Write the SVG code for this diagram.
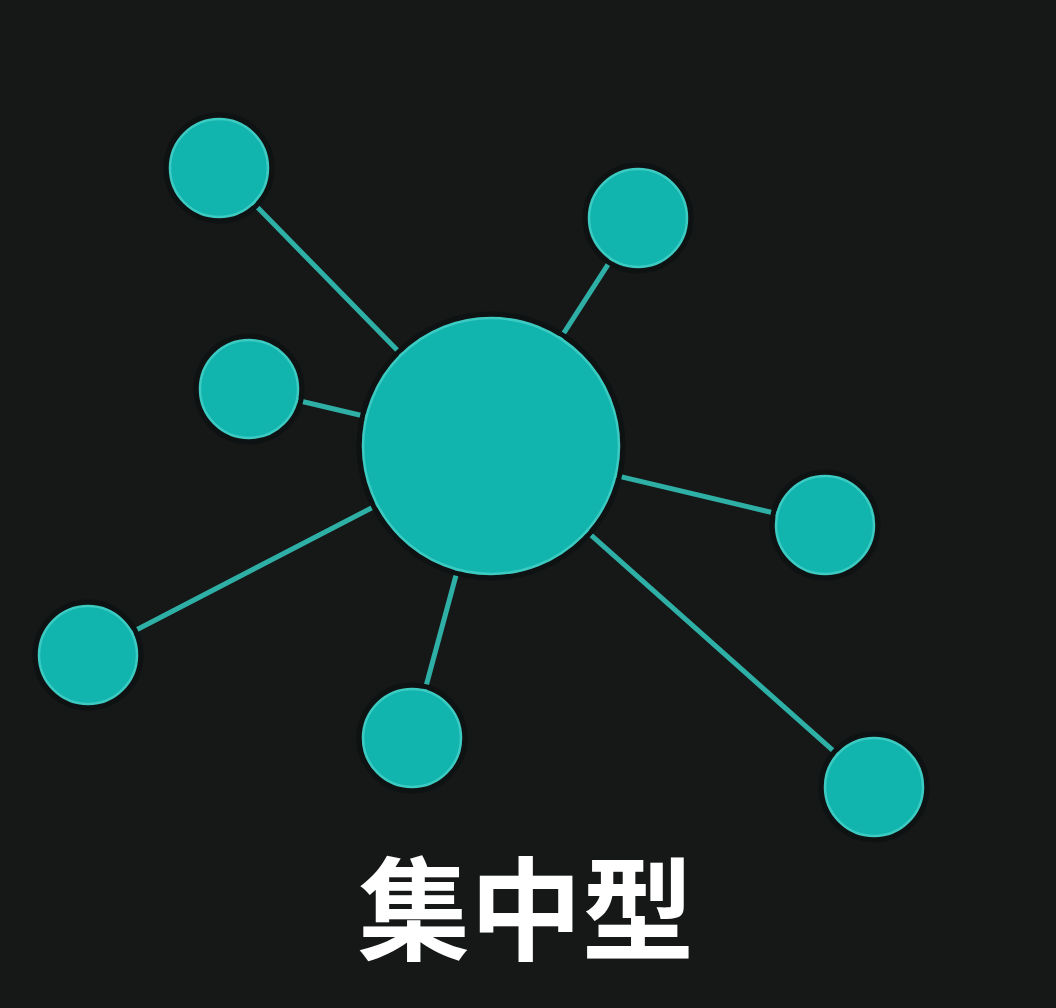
<svg xmlns="http://www.w3.org/2000/svg" width="1056" height="1008" viewBox="0 0 1056 1008">
<style>
.node{fill:#12b5ae;stroke:#3ccbc2;stroke-width:2.5}
.halo{fill:none;stroke:#0f1212;stroke-width:5}
.edge{stroke:#2fb0a6;stroke-width:5;stroke-linecap:round}
.label{font-family:"Noto Sans CJK SC","Noto Sans CJK JP",sans-serif;font-weight:700;font-size:112px;fill:#ffffff}
</style>
<rect width="1056" height="1008" fill="#161818"/>
<g id="connectors">
<line class="edge" x1="491" y1="446" x2="219" y2="168"/>
<line class="edge" x1="491" y1="446" x2="638" y2="218"/>
<line class="edge" x1="491" y1="446" x2="249" y2="389"/>
<line class="edge" x1="491" y1="446" x2="825" y2="525"/>
<line class="edge" x1="491" y1="446" x2="88" y2="655"/>
<line class="edge" x1="491" y1="446" x2="412" y2="738"/>
<line class="edge" x1="491" y1="446" x2="874" y2="787"/>
</g>
<g id="hub"><circle cx="491" cy="446" r="132" class="halo"/><circle class="node" cx="491" cy="446" r="128"/></g>
<g id="n1"><circle cx="219" cy="168" r="53" class="halo"/><circle class="node" cx="219" cy="168" r="49"/></g>
<g id="n2"><circle cx="638" cy="218" r="53" class="halo"/><circle class="node" cx="638" cy="218" r="49"/></g>
<g id="n3"><circle cx="249" cy="389" r="53" class="halo"/><circle class="node" cx="249" cy="389" r="49"/></g>
<g id="n4"><circle cx="825" cy="525" r="53" class="halo"/><circle class="node" cx="825" cy="525" r="49"/></g>
<g id="n5"><circle cx="88" cy="655" r="53" class="halo"/><circle class="node" cx="88" cy="655" r="49"/></g>
<g id="n6"><circle cx="412" cy="738" r="53" class="halo"/><circle class="node" cx="412" cy="738" r="49"/></g>
<g id="n7"><circle cx="874" cy="787" r="53" class="halo"/><circle class="node" cx="874" cy="787" r="49"/></g>
<text class="label" x="526" y="952" text-anchor="middle">集中型</text>
</svg>
